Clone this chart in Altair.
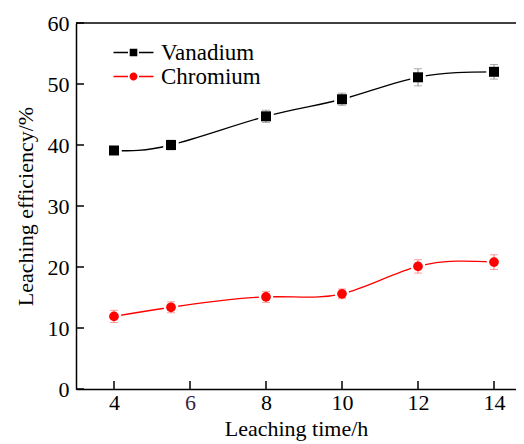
import altair as alt
import pandas as pd

times = [4, 5.5, 8, 10, 12, 14]
vanadium = [39.1, 40.0, 44.7, 47.5, 51.1, 52.0]
vanadium_err = [0.6, 0.8, 1.0, 1.0, 1.4, 1.2]
chromium = [11.9, 13.4, 15.1, 15.6, 20.1, 20.8]
chromium_err = [1.0, 0.9, 0.9, 0.8, 1.1, 1.2]
series_names = ["Vanadium", "Chromium"]
x_tick_values = [4, 6, 8, 10, 12, 14]
y_tick_values = [0, 10, 20, 30, 40, 50, 60]

rows = []
for name, vals, errs in [("Vanadium", vanadium, vanadium_err), ("Chromium", chromium, chromium_err)]:
    for t, v, e in zip(times, vals, errs):
        rows.append({"time": t, "value": v, "lo": v - e, "hi": v + e, "series": name})
df = pd.DataFrame(rows)
xt = pd.DataFrame({"t": x_tick_values})
yt = pd.DataFrame({"v": y_tick_values})

W, H = 440, 366
FONT = "'Liberation Serif', 'Times New Roman', Times, serif"

xs = alt.Scale(domain=[3, 3 + W / 38], nice=False, zero=False)
ys = alt.Scale(domain=[0, 60], nice=False)
xax = alt.Axis(values=x_tick_values, tickSize=0, labelPadding=3, labelFont=FONT, labelFontSize=22,
               labelColor={"expr": "datum.value == 6 ? '#3b1f47' : '#000000'"},
               title="Leaching time/h", titleFont=FONT, titleFontSize=22, titleFontWeight="normal",
               titleColor="black", titlePadding=5, domainColor="black", domainWidth=1.5, grid=False)
yax = alt.Axis(values=y_tick_values, tickSize=0, labelPadding=7, labelFont=FONT, labelFontSize=22,
               labelColor="black", title="Leaching efficiency/%", titleFont=FONT, titleFontSize=22,
               titleFontWeight="normal", titleColor="black", titlePadding=10,
               domainColor="black", domainWidth=1.5, grid=False)


def X(f):
    return alt.X(f, type="quantitative", scale=xs, axis=xax)


def Y(f):
    return alt.Y(f, type="quantitative", scale=ys, axis=yax)


base = alt.Chart(df)
layers = []

top = alt.Chart(yt).transform_filter("datum.v == 60").mark_rule(color="black", strokeWidth=1.5).encode(
    y=Y("v"), x=alt.value(0), x2=alt.value(W))
xticks = alt.Chart(xt).mark_rule(color="black", strokeWidth=1.5).encode(
    x=X("t"), y=alt.value(H), y2=alt.value(H - 8))
yticks = alt.Chart(yt).mark_rule(color="black", strokeWidth=1.5).encode(
    y=Y("v"), x=alt.value(0), x2=alt.value(8))
layers += [top, xticks, yticks]

styles = {
    "Vanadium": dict(color="black", err="#8a8a8a", shape="square", size=100, ring=240),
    "Chromium": dict(color="#ff0000", err="#f27a7a", shape="circle", size=95, ring=210),
}
for name in series_names:
    s = styles[name]
    b = base.transform_filter(alt.datum.series == name)
    line = b.mark_line(color=s["color"], strokeWidth=1.3, interpolate="natural").encode(x=X("time"), y=Y("value"))
    ring = b.mark_point(shape=s["shape"], filled=True, color="white", opacity=1, size=s["ring"]).encode(
        x=X("time"), y=Y("value"))
    stem = b.mark_rule(color=s["err"], strokeWidth=1).encode(x=X("time"), y=Y("lo"), y2="hi")
    cap_lo = b.mark_tick(color=s["err"], orient="horizontal", size=8, thickness=1).encode(x=X("time"), y=Y("lo"))
    cap_hi = b.mark_tick(color=s["err"], orient="horizontal", size=8, thickness=1).encode(x=X("time"), y=Y("hi"))
    pts = b.mark_point(shape=s["shape"], filled=True, color=s["color"], opacity=1, size=s["size"]).encode(
        x=X("time"), y=Y("value"))
    layers += [line, ring, stem, cap_lo, cap_hi, pts]

seg = "M-2,-0.075H-0.55V0.075H-2Z M0.55,-0.075H2V0.075H0.55Z "
path_v = seg + "M-0.38,-0.38H0.38V0.38H-0.38Z"
path_c = seg + "M-0.4,0A0.4,0.4 0 1,0 0.4,0A0.4,0.4 0 1,0 -0.4,0Z"

leg = alt.Legend(orient="none", legendX=46, legendY=18, title=None, labelFont=FONT, labelFontSize=23,
                 labelColor="black", symbolSize=400, symbolStrokeWidth=0, symbolOpacity=1,
                 labelOffset=16, rowPadding=0, padding=0)
legend_layer = base.transform_filter("datum.time > 100").mark_point(filled=True).encode(
    x=X("time"), y=Y("value"),
    color=alt.Color("series:N", scale=alt.Scale(domain=series_names, range=["black", "#ff0000"]), legend=leg),
    shape=alt.Shape("series:N", scale=alt.Scale(domain=series_names, range=[path_v, path_c]), legend=leg),
)
layers.append(legend_layer)

chart = alt.layer(*layers).properties(
    width=W, height=H,
    autosize=alt.AutoSizeParams(type="none"),
    padding={"left": 68, "top": 15, "right": 0, "bottom": 55},
    background="white",
).configure_view(stroke=None)

chart.save("out.html", embed_options={"renderer": "svg", "actions": False})
